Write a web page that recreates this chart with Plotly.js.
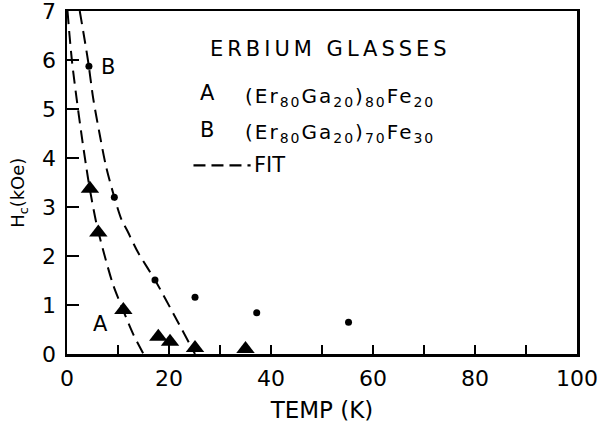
<!DOCTYPE html>
<html>
<head>
<meta charset="utf-8">
<script src="https://cdn.plot.ly/plotly-3.0.1.min.js"></script>
<style>
  html, body { margin: 0; padding: 0; background: #fff; }
  #chart { width: 602px; height: 425px; }
  /* wide, airy lettering for the key heading and the two compositions */
  #chart .annotation[data-index="3"] text { letter-spacing: 4px; }
  #chart .annotation[data-index="5"] text,
  #chart .annotation[data-index="7"] text { letter-spacing: 2px; }
</style>
</head>
<body>
<div id="chart"></div>
<script>
// Sample A: (Er80Ga20)80Fe20 — measured coercive field
const tempA = [4.5, 6.14, 11.05, 17.9, 20.2, 25.1, 35.0];
const hcA   = [3.37, 2.48, 0.90, 0.35, 0.25, 0.12, 0.10];

// Sample B: (Er80Ga20)70Fe30 — measured coercive field
const tempB = [4.3, 9.28, 17.25, 25.1, 37.2, 55.2];
const hcB   = [5.87, 3.20, 1.51, 1.16, 0.84, 0.65];

// Fitted curves (dashed)
const fitTempA = [0.1, 0.5, 1.0, 1.9, 2.88, 3.73, 4.5, 5.8, 7.45, 9.08, 11.05, 13.0, 15.0];
const fitHcA   = [7.0, 6.5, 5.95, 5.2, 4.45, 3.85, 3.35, 2.65, 1.98, 1.40, 0.88, 0.40, 0.0];
const fitTempB = [2.5, 4.1, 5.16, 6.34, 7.65, 9.28, 10.7, 11.7, 14.0, 17.25, 21.5, 25.1];
const fitHcB   = [7.0, 6.0, 5.2, 4.52, 3.83, 3.2, 2.74, 2.54, 2.06, 1.51, 0.70, 0.0];

const xTicks = [0, 20, 40, 60, 80, 100];
const yTicks = [0, 1, 2, 3, 4, 5, 6, 7];

const FONT = 'DejaVu Sans, Verdana, sans-serif';
const BLACK = '#000';

const fitLine = { color: BLACK, width: 2, dash: '13px,7px', shape: 'spline', smoothing: 0.8 };

const traces = [
  { x: fitTempA, y: fitHcA, mode: 'lines', line: fitLine, hoverinfo: 'skip' },
  { x: fitTempB, y: fitHcB, mode: 'lines', line: fitLine, hoverinfo: 'skip' },
  { x: tempA, y: hcA, mode: 'markers', marker: { symbol: 'triangle-up', size: 16, color: BLACK } },
  { x: tempB, y: hcB, mode: 'markers', marker: { symbol: 'circle', size: 7, color: BLACK } }
];

const ann = (x, y, text, opts) => Object.assign({
  xref: 'x', yref: 'y', x, y, text, showarrow: false,
  font: { family: FONT, size: 21, color: BLACK }
}, opts || {});

const layout = {
  width: 602, height: 425,
  margin: { l: 67, r: 25, t: 11, b: 71 },
  paper_bgcolor: '#fff', plot_bgcolor: '#fff',
  showlegend: false,
  xaxis: {
    range: [0, 100], tickvals: xTicks, ticktext: xTicks.map(String),
    ticks: 'inside', ticklen: 9, tickwidth: 2, tickcolor: BLACK,
    minor: { dtick: 10, tick0: 0, ticks: 'inside', ticklen: 9, tickwidth: 2, tickcolor: BLACK },
    showline: true, linewidth: 2.5, linecolor: BLACK, mirror: true,
    showgrid: false, zeroline: false,
    ticklabelstandoff: 3,
    tickfont: { family: FONT, size: 22, color: BLACK },
    title: { text: 'TEMP (K)', font: { family: FONT, size: 23, color: BLACK }, standoff: 12 }
  },
  yaxis: {
    range: [0, 7], tickvals: yTicks, ticktext: yTicks.map(String),
    ticks: 'inside', ticklen: 12, tickwidth: 2, tickcolor: BLACK,
    showline: true, linewidth: 2.5, linecolor: BLACK, mirror: true,
    showgrid: false, zeroline: false,
    ticklabeloverflow: 'allow',
    ticklabelstandoff: 4,
    tickfont: { family: FONT, size: 22, color: BLACK }
  },
  shapes: [
    // dashed sample line for the "FIT" key entry
    { type: 'line', xref: 'x', yref: 'y', x0: 24.8, x1: 36.0, y0: 3.85, y1: 3.85,
      line: { color: BLACK, width: 2.2, dash: '12px,6px' } }
  ],
  annotations: [
    // y-axis title
    { xref: 'paper', yref: 'paper', x: -0.094, y: 0.47, xanchor: 'center', yanchor: 'middle',
      textangle: -90, text: 'H<sub>c</sub>(kOe)', showarrow: false,
      font: { family: FONT, size: 18, color: BLACK } },
    ann(8.1, 5.86, 'B'),
    ann(6.6, 0.61, 'A'),
    ann(27.6, 6.22, 'ERBIUM GLASSES', { xanchor: 'left', align: 'left' }),
    ann(25.7, 5.32, 'A', { xanchor: 'left' }),
    ann(34.5, 5.25, '(Er<sub>80</sub>Ga<sub>20</sub>)<sub>80</sub>Fe<sub>20</sub>',
        { xanchor: 'left', align: 'left', font: { family: FONT, size: 20, color: BLACK } }),
    ann(25.7, 4.58, 'B', { xanchor: 'left' }),
    ann(34.5, 4.51, '(Er<sub>80</sub>Ga<sub>20</sub>)<sub>70</sub>Fe<sub>30</sub>',
        { xanchor: 'left', align: 'left', font: { family: FONT, size: 20, color: BLACK } }),
    ann(36.3, 3.85, 'FIT', { xanchor: 'left' })
  ]
};

Plotly.newPlot('chart', traces, layout, { displayModeBar: false, staticPlot: true });
</script>
</body>
</html>
